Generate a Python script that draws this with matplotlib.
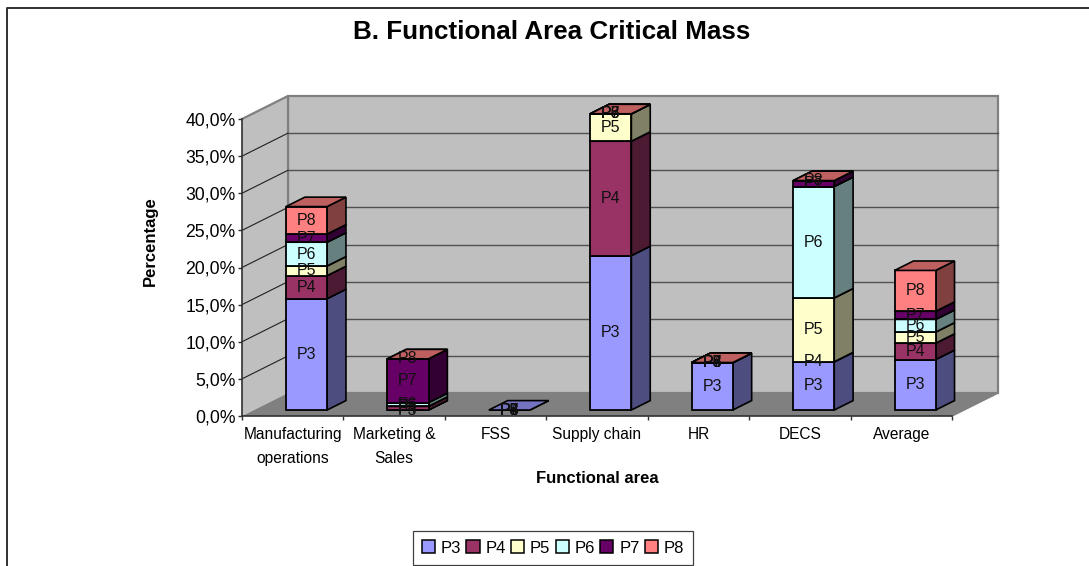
import numpy as np
import matplotlib
matplotlib.use('Agg')
import matplotlib.pyplot as plt
from matplotlib.patches import Patch, Polygon, Rectangle
from matplotlib.transforms import Affine2D

plt.rcParams['font.family'] = ['Liberation Sans', 'DejaVu Sans']

categories = ['Manufacturing\noperations', 'Marketing &\nSales', 'FSS', 'Supply chain', 'HR', 'DECS', 'Average']
series_names = ['P3', 'P4', 'P5', 'P6', 'P7', 'P8']
p3 = [15.0, 0.0, 0.0, 20.8, 6.4, 6.5, 6.8]
p4 = [3.1, 0.5, np.nan, 15.4, 0.0, 0.0, 2.2]
p5 = [1.3, 0.0, np.nan, 3.7, 0.0, 8.6, 1.5]
p6 = [3.2, 0.5, np.nan, 0.0, 0.0, 15.0, 1.7]
p7 = [1.1, 5.9, np.nan, 0.0, 0.0, 0.8, 1.1]
p8 = [3.7, 0.0, np.nan, 0.0, 0.0, 0.0, 5.5]
values = [p3, p4, p5, p6, p7, p8]
yticks = [0, 5, 10, 15, 20, 25, 30, 35, 40]

colors = ['#9999FF', '#993366', '#FFFFCC', '#CCFFFF', '#660066', '#FF8080']
side_colors = ['#4D4D80', '#4D1A33', '#808066', '#668080', '#330033', '#804040']
top_colors = ['#7373BF', '#73264D', '#BFBF99', '#99BFBF', '#4D004D', '#BF6060']

DX, DY = 46, 23   # depth of the 3d box in pixels
bar_d0, bar_d1 = 0.26, 0.67
bar_w = 0.405
bar_left = 0.316

fig = plt.figure(figsize=(10.89, 5.66), dpi=100)
ax = fig.add_axes([242 / 1089, 150 / 566, 710 / 1089, 297 / 566])
ax.patch.set_visible(False)
ax.set_xlim(0, len(categories))
ax.set_ylim(0, 40)


def depth(d):
    return ax.transData + Affine2D().translate(DX * d, DY * d)


def poly(pts, d, **kw):
    ax.add_patch(Polygon(pts, closed=True, transform=depth(d), clip_on=False, **kw))


n = len(categories)
# walls and floor
ax.add_patch(Rectangle((0, 0), n, 40, transform=depth(1), fc='#BFBFBF', ec='#808080', lw=1.6, clip_on=False, zorder=1))
lw_x = DX / (710 / n)
lw_y = DY / (297 / 40)
ax.add_patch(Polygon([(0, 0), (0, 40), (lw_x, 40 + lw_y), (lw_x, lw_y)], transform=ax.transData, fc='#BFBFBF',
                     ec='none', clip_on=False, zorder=1))
ax.plot([0, lw_x, lw_x], [40, 40 + lw_y, lw_y], color='#808080', lw=1.6, clip_on=False, zorder=2)
ax.add_patch(Polygon([(0, 0), (n, 0), (n + lw_x, lw_y), (lw_x, lw_y)], transform=ax.transData, fc='#808080',
                     ec='none', clip_on=False, zorder=2))
ax.plot([n, n + lw_x], [0, lw_y], color='#808080', lw=1.2, clip_on=False, zorder=2)

for v in yticks[1:-1]:
    ax.plot([0, lw_x], [v, v + lw_y], color='#202020', lw=0.8, clip_on=False, zorder=2)
    ax.plot([lw_x, n + lw_x], [v + lw_y, v + lw_y], color='#505050', lw=1.0, clip_on=False, zorder=2)

# stacked bars
z = 3
for c in range(n):
    x0 = c + bar_left
    x1 = x0 + bar_w
    bottom = 0.0
    for s, vals in enumerate(values):
        h = vals[c]
        if np.isnan(h):
            continue
        top = bottom + h
        poly([(x1, bottom), (x1, top), (x1 + (bar_d1 - bar_d0) * lw_x, top + (bar_d1 - bar_d0) * lw_y),
              (x1 + (bar_d1 - bar_d0) * lw_x, bottom + (bar_d1 - bar_d0) * lw_y)], bar_d0,
             fc=side_colors[s], ec='black', lw=1.2, zorder=z)
        ax.bar(x0, h, width=bar_w, bottom=bottom, align='edge', color=colors[s], edgecolor='black', linewidth=1.3,
               transform=depth(bar_d0), clip_on=False, zorder=z + 0.1)
        poly([(x0, top), (x1, top), (x1 + (bar_d1 - bar_d0) * lw_x, top + (bar_d1 - bar_d0) * lw_y),
              (x0 + (bar_d1 - bar_d0) * lw_x, top + (bar_d1 - bar_d0) * lw_y)], bar_d0,
             fc=top_colors[s], ec='black', lw=1.2, zorder=z + 0.2)
        z += 0.3
        bottom = top

# data labels go on top of every bar, also the blank FSS ones
for c in range(n):
    bottom = 0.0
    for s, vals in enumerate(values):
        h = 0.0 if np.isnan(vals[c]) else vals[c]
        ax.text(c + bar_left + bar_w / 2, bottom + h / 2, series_names[s], transform=depth(bar_d0), ha='center',
                va='center', fontsize=11.5, color='#101010', zorder=50, clip_on=False)
        bottom += h

# axes
for name in ['top', 'right']:
    ax.spines[name].set_visible(False)
for name in ['left', 'bottom']:
    ax.spines[name].set_color('#303030')
    ax.spines[name].set_linewidth(1.2)
    ax.spines[name].set_zorder(60)
ax.set_yticks(yticks)
ax.set_yticklabels(['{:.1f}%'.format(v).replace('.', ',') for v in yticks], fontsize=12.7)
ax.tick_params(axis='y', length=3, width=1, color='#303030', pad=1.5)
ax.set_xticks(np.arange(n + 1))
ax.set_xticklabels([])
ax.tick_params(axis='x', which='major', length=3, width=1, color='#303030')
ax.set_xticks(np.arange(n) + 0.5, minor=True)
ax.set_xticklabels(categories, minor=True, fontsize=11.2, linespacing=1.75)
ax.tick_params(axis='x', which='minor', length=0, pad=8)
ax.set_xlabel('Functional area', fontsize=12, fontweight='bold')
ax.xaxis.set_label_coords(0.5, -0.185)
ax.set_ylabel('Percentage', fontsize=12, fontweight='bold')
ax.yaxis.set_label_coords(-0.118, 0.59)

fig.text(552 / 1089, 1 - 32 / 566, 'B. Functional Area Critical Mass', ha='center', va='center', fontsize=18.7,
         fontweight='bold')

handles = [Patch(fc=colors[i], ec='black', lw=1.1, label=series_names[i]) for i in range(6)]
leg = fig.legend(handles=handles, loc='center', bbox_to_anchor=(553 / 1089, 1 - 548 / 566), ncol=6, fontsize=12,
                 frameon=True, fancybox=False, edgecolor='#404040', framealpha=1, handlelength=0.8, handleheight=0.8,
                 handletextpad=0.35, columnspacing=0.3, borderpad=0.55, borderaxespad=0)
leg.get_frame().set_linewidth(0.9)

# outer chart frame, only left and top are inside the crop
fig.add_artist(plt.Line2D([6.5 / 1089, 6.5 / 1089, 1], [0, 1 - 7.5 / 566, 1 - 7.5 / 566],
                          color='#303030', lw=1.4))

fig.savefig('out.png', dpi=100)
